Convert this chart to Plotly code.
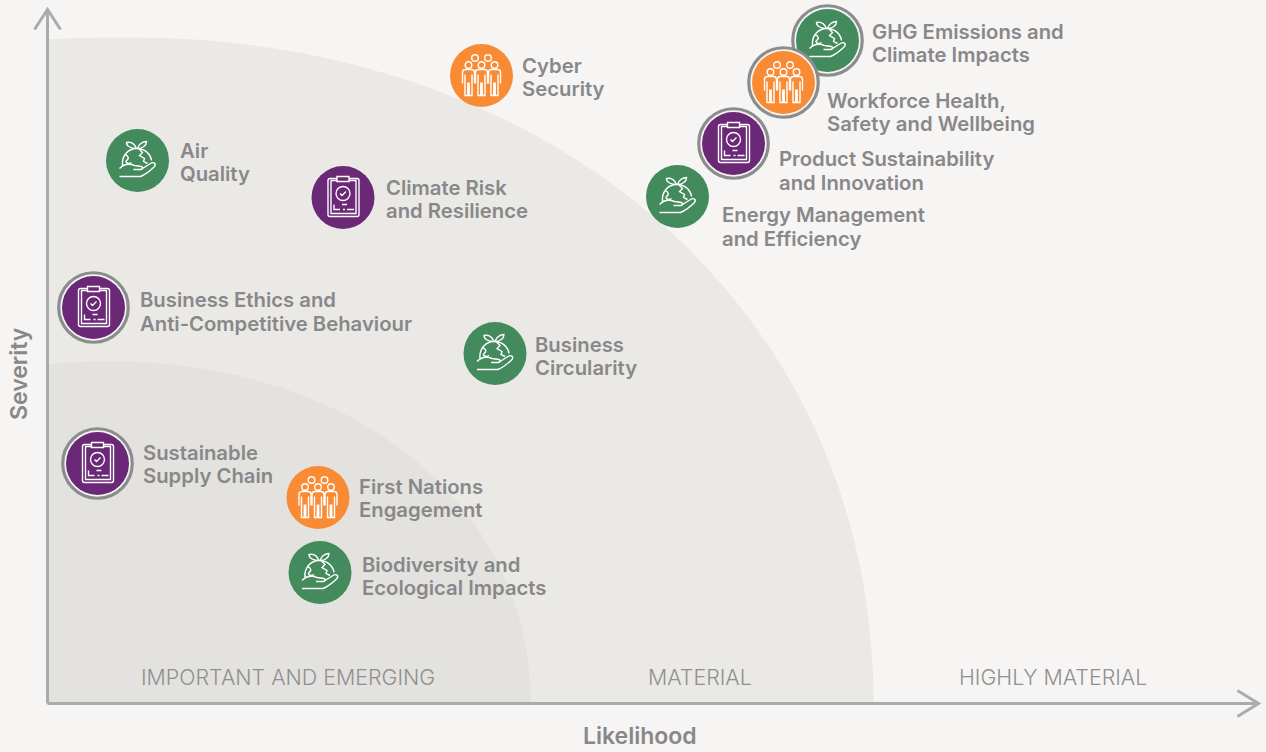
import re
import plotly.graph_objects as go

# values in chart units, origin at the axes corner
topics = ["GHG", "Workforce", "Product", "Energy", "Cyber", "Air", "ClimateRisk", "Ethics",
          "Circularity", "SupplyChain", "FirstNations", "Biodiversity"]
likelihood = [780, 736, 686, 630, 434, 90, 295.5, 46, 447.5, 50, 270.5, 272.5]
severity = [663, 621, 560, 507, 628, 543, 506, 396, 350, 240, 206, 131]
pillar = ["env", "people", "gov", "env", "people", "env", "gov", "gov", "env", "gov", "people", "env"]
ringed = [True, True, True, False, False, False, False, True, False, True, False, False]
labels = [
    ["GHG Emissions and", "Climate Impacts"],
    ["Workforce Health,", "Safety and Wellbeing"],
    ["Product Sustainability", "and Innovation"],
    ["Energy Management", "and Efficiency"],
    ["Cyber", "Security"],
    ["Air", "Quality"],
    ["Climate Risk", "and Resilience"],
    ["Business Ethics and", "Anti-Competitive Behaviour"],
    ["Business", "Circularity"],
    ["Sustainable", "Supply Chain"],
    ["First Nations", "Engagement"],
    ["Biodiversity and", "Ecological Impacts"],
]

zone_names = ["IMPORTANT AND EMERGING", "MATERIAL", "HIGHLY MATERIAL"]
zone_name_x = [240, 652, 1005]
zone_name_y = 27
zone_reach = [826, 483]
zone_height = [666, 342]
zone_peak = [83, 65]
zone_start = [664, 339]
axis_end_x = 1211
axis_end_y = 694

BG = "#f6f5f3"
ZONE_COLORS = ["#eae9e5", "#e3e2de"]
PILLAR_COLORS = {"env": "#438a5c", "people": "#f98b35", "gov": "#6a2877"}
TEXT = "#88888b"
AXIS = "#a9abae"
RING = "#8b8c8e"
FONT = "Inter"

# label offsets from the marker centre, in pixels (line 1 centre)
label_dx = [42, 41, 43, 42, 38, 40, 41, 44, 37.5, 43, 38.5, 39.5]
label_dy = [-9, 18, 15, 18, -10, -10, -10, -8, -9, -11, -11, -8]
label_gap = [23, 23, 24, 24, 23, 23, 23, 24, 23, 23, 23, 23]


def up(path):
    # icon paths are written y-down, pixel shapes want y-up
    out, is_y = [], False
    for tok in re.findall(r"[A-Za-z]|-?[\d.]+", path):
        if tok.isalpha():
            out.append(tok)
            is_y = False
        else:
            out.append(str(-float(tok)) if is_y else tok)
            is_y = not is_y
    return " ".join(out)


def circle(cx, cy, r):
    k = r * 0.5523
    return (f"M {cx - r} {cy} C {cx - r} {cy - k} {cx - k} {cy - r} {cx} {cy - r} "
            f"C {cx + k} {cy - r} {cx + r} {cy - k} {cx + r} {cy} "
            f"C {cx + r} {cy + k} {cx + k} {cy + r} {cx} {cy + r} "
            f"C {cx - k} {cy + r} {cx - r} {cy + k} {cx - r} {cy} Z ")


def person(dx):
    return (f"M {dx - 6} 8 L {dx - 6} -3 Q {dx - 6} -6 {dx - 3} -6 L {dx + 3} -6 Q {dx + 6} -6 {dx + 6} -3 L {dx + 6} 8 "
            f"M {dx - 3.5} -1 L {dx - 3.5} 20 L {dx - 0.7} 20 L {dx - 0.7} 7 "
            f"M {dx + 0.7} 7 L {dx + 0.7} 20 L {dx + 3.5} 20 L {dx + 3.5} -1 ")


ICONS = {
    "env": (
        "M -15 5 C -16 -5 -9 -12 -1 -12 C 7 -12 13 -7 14 0 "
        "M -13 -6 C -9 -5 -8 -2 -11 0 C -13 2 -9 4 -6 2 "
        "M 1 -12 L 5 -8 L 2 -5 L 7 -2 L 6 1 L 10 3 "
        "M -1 -12 C -3 -17 -7 -19 -11 -18 C -11 -14 -6 -12 -1 -12 Z "
        "M 0 -12 C 1 -16 5 -19 9 -19 C 9 -15 5 -12 0 -12 Z "
        "M -18 8 C -13 3 -8 3 -3 5 L 4 6 C 6 7 5 9 3 9 L -4 9 "
        "M 5 8 L 13 3 C 16 1 19 3 17 6 C 12 11 8 14 3 16 L -18 16"
    ),
    "people": (
        circle(-6.5, -17.5, 3.3) + circle(6.5, -17.5, 3.3)
        + circle(-13, -10.5, 3.3) + circle(0, -10.5, 3.3) + circle(13, -10.5, 3.3)
        + person(-13) + person(0) + person(13)
    ),
    "gov": (
        "M -6 -19 L -13 -19 Q -15 -19 -15 -17 L -15 17 Q -15 19 -13 19 L 14 19 Q 16 19 16 17 L 16 -17 Q 16 -19 14 -19 L 6 -19 "
        "M -6 -21 L 6 -21 L 6 -16 L -6 -16 Z "
        "M -6 -17 L -12 -17 L -12 16 L 13 16 L 13 -17 L 6 -17 "
        + circle(0, -4, 7)
        + "M -3 -4 L -1 -2 L 3 -6 "
        "M -9 7 L -9 12 L -3 12 M -1 7 L 4 7 M 0 12 L 2 12 M 4 12 L 11 12 M 16 -5 L 16 -3"
    ),
}

fig = go.Figure()

# one ring and one disc per topic, drawn in order so later rings sit over earlier discs
for i, topic in enumerate(topics):
    if ringed[i]:
        fig.add_trace(go.Scatter(x=[likelihood[i]], y=[severity[i]], mode="markers", hoverinfo="skip",
                                 marker=dict(size=69.5, color=BG, line=dict(color=RING, width=3.2))))
    fig.add_trace(go.Scatter(x=[likelihood[i]], y=[severity[i]], mode="markers", name=topic,
                             marker=dict(size=63, color=PILLAR_COLORS[pillar[i]], line=dict(width=0))))

shapes = []

# quarter-round zones, big one first
for reach, height, peak, start, color in zip(zone_reach, zone_height, zone_peak, zone_start, ZONE_COLORS):
    rx = reach - peak
    path = (f"M 0 0 L 0 {start} C {peak * 0.4} {height} {peak * 0.7} {height} {peak} {height} "
            f"C {peak + rx * 0.56} {height} {reach} {height * 0.6} {reach} 0 Z")
    shapes.append(dict(type="path", path=path, xref="x", yref="y", fillcolor=color,
                       line=dict(width=0), layer="below"))

# axes
shapes.append(dict(type="line", xref="x", yref="y", x0=0, y0=0, x1=axis_end_x, y1=0,
                   line=dict(color=AXIS, width=3), layer="below"))
shapes.append(dict(type="line", xref="x", yref="y", x0=0, y0=0, x1=0, y1=axis_end_y,
                   line=dict(color=AXIS, width=3), layer="below"))
shapes.append(dict(type="path", xref="x", yref="y", xsizemode="pixel", ysizemode="pixel",
                   xanchor=axis_end_x, yanchor=0, path=up("M -21 -13 L 0 0 L -21 13"),
                   line=dict(color=AXIS, width=3), layer="below"))
shapes.append(dict(type="path", xref="x", yref="y", xsizemode="pixel", ysizemode="pixel",
                   xanchor=0, yanchor=axis_end_y, path=up("M -13 20 L 0 0 L 13 20"),
                   line=dict(color=AXIS, width=3), layer="below"))

# icons
for i, p in enumerate(pillar):
    shapes.append(dict(type="path", xref="x", yref="y", xsizemode="pixel", ysizemode="pixel",
                       xanchor=likelihood[i], yanchor=severity[i], path=up(ICONS[p]),
                       line=dict(color="white", width=1.4), layer="above"))

annotations = []
for i, lines in enumerate(labels):
    for j, line in enumerate(lines):
        annotations.append(dict(x=likelihood[i], y=severity[i], text=line, showarrow=False,
                                xanchor="left", yanchor="middle", xref="x", yref="y",
                                xshift=label_dx[i], yshift=-(label_dy[i] + j * label_gap[i]),
                                font=dict(family=FONT, size=20.3, color=TEXT, weight=600)))

for name, x in zip(zone_names, zone_name_x):
    annotations.append(dict(x=x, y=zone_name_y, text=name, showarrow=False, xref="x", yref="y",
                            font=dict(family=FONT, size=21.4, color="#909092", weight=300)))

annotations.append(dict(x=592, y=-32, text="Likelihood", showarrow=False, xref="x", yref="y",
                        font=dict(family=FONT, size=23, color=TEXT, weight=600)))
annotations.append(dict(x=-29, y=330, text="Severity", textangle=-90, showarrow=False, xref="x", yref="y",
                        font=dict(family=FONT, size=23, color=TEXT, weight=600)))

fig.update_layout(
    width=1266, height=752, autosize=False,
    margin=dict(l=0, r=0, t=0, b=0),
    paper_bgcolor=BG, plot_bgcolor=BG,
    showlegend=False,
    xaxis=dict(range=[-47.5, 1218.5], visible=False, fixedrange=True),
    yaxis=dict(range=[-48.5, 703.5], visible=False, fixedrange=True),
    shapes=shapes, annotations=annotations,
)

fig.write_html("out.html", config=dict(displayModeBar=False), post_script="document.body.style.margin='0';")
